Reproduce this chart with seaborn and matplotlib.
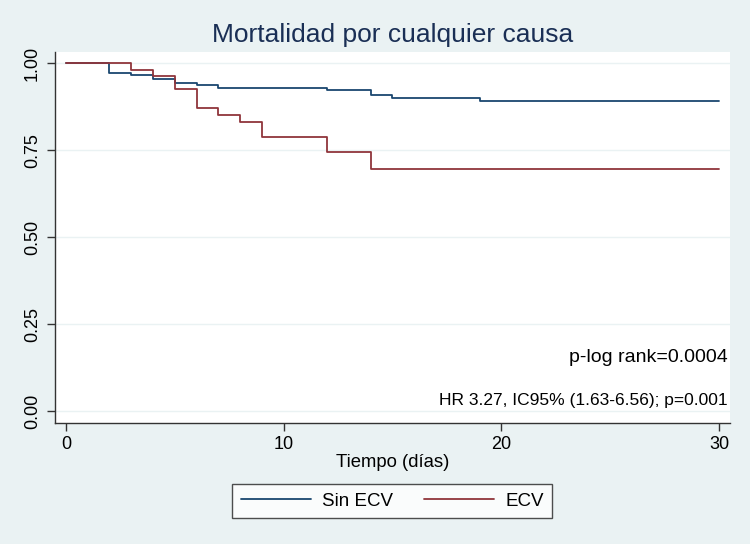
import matplotlib
matplotlib.use("Agg")
import matplotlib.pyplot as plt
import pandas as pd
import seaborn as sns

# Kaplan-Meier step values
sin_ecv_time = [0, 2, 3, 4, 5, 6, 7, 12, 14, 15, 19, 30]
sin_ecv_surv = [1.0, 0.973, 0.967, 0.955, 0.942, 0.937, 0.930, 0.922, 0.908, 0.900, 0.890, 0.890]
ecv_time = [0, 3, 4, 5, 6, 7, 8, 9, 12, 14, 30]
ecv_surv = [1.0, 0.980, 0.964, 0.925, 0.871, 0.851, 0.831, 0.788, 0.744, 0.696, 0.696]

groups = ["Sin ECV", "ECV"]
colors = ["#1a476f", "#90353b"]
x_ticks = [0, 10, 20, 30]
y_ticks = [0.00, 0.25, 0.50, 0.75, 1.00]

title = "Mortalidad por cualquier causa"
xlabel = "Tiempo (días)"
note_logrank = "p-log rank=0.0004"
note_hr = "HR 3.27, IC95% (1.63-6.56); p=0.001"

df = pd.concat([
    pd.DataFrame({"t": sin_ecv_time, "s": sin_ecv_surv, "grupo": groups[0]}),
    pd.DataFrame({"t": ecv_time, "s": ecv_surv, "grupo": groups[1]}),
], ignore_index=True)

bg = "#eaf2f3"
sns.set_style("white")
plt.rcParams["font.family"] = ["Liberation Sans", "DejaVu Sans"]
plt.rcParams["text.color"] = "black"
plt.rcParams["axes.labelcolor"] = "black"
plt.rcParams["xtick.color"] = "black"
plt.rcParams["ytick.color"] = "black"

fig = plt.figure(figsize=(7.5, 5.44), dpi=100, facecolor=bg)
ax = fig.add_axes([0.0733, 0.2224, 0.90, 0.682])
ax.set_facecolor("white")

sns.lineplot(data=df, x="t", y="s", hue="grupo", hue_order=groups, palette=colors,
             estimator=None, drawstyle="steps-post", linewidth=1.3, ax=ax, legend=False)

ax.set_xlim(-0.5, 30.5)
ax.set_ylim(-0.034, 1.032)
ax.set_xticks(x_ticks)
ax.set_yticks(y_ticks)
ax.set_yticklabels([f"{v:.2f}" for v in y_ticks], rotation=90, va="center")
ax.tick_params(axis="both", labelsize=13, length=6, width=1, color="#333333",
               direction="out", bottom=True, left=True)
ax.tick_params(axis="y", pad=4)
ax.tick_params(axis="x", pad=3)
ax.grid(axis="y", color=bg, linewidth=1)
ax.set_axisbelow(True)
for side in ["top", "right"]:
    ax.spines[side].set_visible(False)
for side in ["left", "bottom"]:
    ax.spines[side].set_color("#333333")
    ax.spines[side].set_linewidth(1)

ax.set_xlabel(xlabel, fontsize=13.3, labelpad=1)
ax.set_ylabel("")
fig.text(0.523, 0.935, title, ha="center", va="center", fontsize=19, color="#1a2f55")

ax.text(30.4, 0.155, note_logrank, ha="right", va="center", fontsize=14)
ax.text(30.4, 0.032, note_hr, ha="right", va="center", fontsize=12.5)

handles = [plt.Line2D([], [], color=c, linewidth=1.3) for c in colors]
leg = fig.legend(handles, groups, loc="center", bbox_to_anchor=(0.523, 0.079), ncol=2,
                 fontsize=13.5, frameon=True, fancybox=False, handlelength=3.75,
                 columnspacing=1.6, handletextpad=0.62, borderpad=0.45)
leg.get_frame().set_edgecolor("#222222")
leg.get_frame().set_linewidth(1)
leg.get_frame().set_facecolor("white")

fig.savefig("out.png", dpi=100, facecolor=bg)
